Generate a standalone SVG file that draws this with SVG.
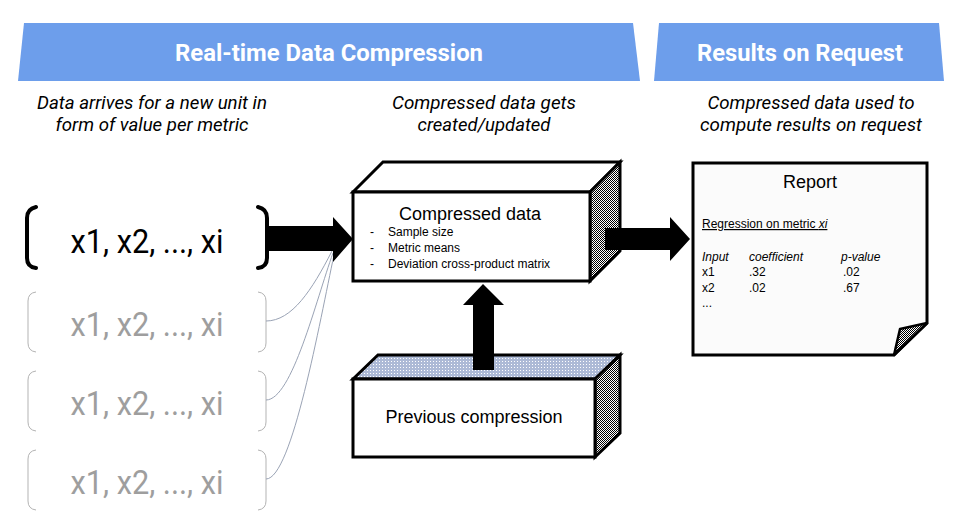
<svg xmlns="http://www.w3.org/2000/svg" width="966" height="530" viewBox="0 0 966 530">
<defs>
<pattern id="dither" width="2" height="2" patternUnits="userSpaceOnUse">
<rect width="2" height="2" fill="#ffffff"/>
<rect x="0" y="0" width="1" height="1" fill="#000000"/>
<rect x="1" y="1" width="1" height="1" fill="#000000"/>
</pattern>
<pattern id="dots" width="3" height="3" patternUnits="userSpaceOnUse">
<rect width="3" height="3" fill="#adbad6"/>
<rect x="1" y="1" width="1" height="1" fill="#ffffff"/>
</pattern>
</defs>
<style>
.hdr{fill:#6d9eeb}
.hdrt{font-family:Roboto,"Liberation Sans",sans-serif;font-weight:bold;font-size:24px;fill:#ffffff;text-anchor:middle}
.sub{font-family:Roboto,"Liberation Sans",sans-serif;font-style:italic;font-size:18px;fill:#000000;text-anchor:middle}
.box{stroke:#000000;stroke-width:3;stroke-linejoin:miter}
.face{fill:#ffffff}
.side{fill:url(#dither)}
.lbl{font-family:"Liberation Sans",Arial,sans-serif;fill:#000000}
.big{font-size:18px;text-anchor:middle}
.sm{font-size:12px}
.vec{font-family:Roboto,"Liberation Sans",sans-serif;font-size:34px;text-anchor:middle}
.vecb{fill:#000000}
.vecg{fill:#9e9e9e}
.brk{fill:none;stroke:#000000;stroke-width:4;stroke-linecap:round}
.brkg{fill:none;stroke:#b3b3b3;stroke-width:1}
.conn{fill:none;stroke:#9aa3b5;stroke-width:1}
.arrow{fill:#000000}
</style>
<g id="header-realtime">
<polygon class="hdr" points="24,23 633,23 640,81 18,81"/>
<text class="hdrt" x="329" y="61" textLength="308" lengthAdjust="spacingAndGlyphs">Real-time Data Compression</text>
</g>
<g id="header-results">
<polygon class="hdr" points="659,23 939,23 944,81 654,81"/>
<text class="hdrt" x="800" y="61" textLength="206" lengthAdjust="spacingAndGlyphs">Results on Request</text>
</g>
<g id="caption-left">
<text class="sub" x="152" y="109" textLength="230" lengthAdjust="spacingAndGlyphs">Data arrives for a new unit in</text>
<text class="sub" x="152" y="131" textLength="193" lengthAdjust="spacingAndGlyphs">form of value per metric</text>
</g>
<g id="caption-mid">
<text class="sub" x="484" y="109" textLength="184" lengthAdjust="spacingAndGlyphs">Compressed data gets</text>
<text class="sub" x="484" y="131" textLength="133" lengthAdjust="spacingAndGlyphs">created/updated</text>
</g>
<g id="caption-right">
<text class="sub" x="811" y="109" textLength="207" lengthAdjust="spacingAndGlyphs">Compressed data used to</text>
<text class="sub" x="811" y="131" textLength="222" lengthAdjust="spacingAndGlyphs">compute results on request</text>
</g>
<g id="unit-current">
<path class="brk" d="M36,207 Q27,209 27,218 V258 Q27,267 36,268"/>
<path class="brk" d="M258,207 Q267,209 267,218 V258 Q267,267 258,268"/>
<text class="vec vecb" x="147" y="253" textLength="153" lengthAdjust="spacingAndGlyphs">x1, x2, ..., xi</text>
</g>
<g id="unit-prev1">
<path class="brkg" d="M36,292 Q28,293 28,301 V343 Q28,351 36,352"/>
<path class="brkg" d="M258,292 Q266,293 266,301 V343 Q266,351 258,352"/>
<text class="vec vecg" x="147" y="336" textLength="153" lengthAdjust="spacingAndGlyphs">x1, x2, ..., xi</text>
</g>
<g id="unit-prev2">
<path class="brkg" d="M36,371 Q28,372 28,380 V422 Q28,430 36,431"/>
<path class="brkg" d="M258,371 Q266,372 266,380 V422 Q266,430 258,431"/>
<text class="vec vecg" x="147" y="415" textLength="153" lengthAdjust="spacingAndGlyphs">x1, x2, ..., xi</text>
</g>
<g id="unit-prev3">
<path class="brkg" d="M36,450 Q28,451 28,459 V501 Q28,509 36,510"/>
<path class="brkg" d="M258,450 Q266,451 266,459 V501 Q266,509 258,510"/>
<text class="vec vecg" x="147" y="494" textLength="153" lengthAdjust="spacingAndGlyphs">x1, x2, ..., xi</text>
</g>
<g id="previous-compression">
<polygon class="box" fill="url(#dots)" points="353,379 378,355 620,355 595,379"/>
<polygon class="box side" points="595,379 620,355 620,433 595,457"/>
<rect class="box face" x="353" y="379" width="242" height="78"/>
<text class="lbl big" x="474" y="423">Previous compression</text>
</g>
<g id="compressed-data">
<polygon class="box face" points="353,192 383,162 620,162 590,192"/>
<polygon class="box side" points="590,192 620,162 620,251 590,281"/>
<rect class="box face" x="353" y="192" width="237" height="89"/>
<text class="lbl big" x="470" y="220">Compressed data</text>
<text class="lbl sm" x="370" y="236">-</text>
<text class="lbl sm" x="388" y="236">Sample size</text>
<text class="lbl sm" x="370" y="252">-</text>
<text class="lbl sm" x="388" y="252">Metric means</text>
<text class="lbl sm" x="370" y="268">-</text>
<text class="lbl sm" x="388" y="268">Deviation cross-product matrix</text>
</g>
<g id="report">
<path class="box" fill="#fbfbfb" d="M693,163 H927 V323 L894,355 H693 Z"/>
<polygon fill="url(#dither)" stroke="#000000" stroke-width="2.5" stroke-linejoin="round" points="927,323 900,329 894,355"/>
<text class="lbl big" x="810" y="188">Report</text>
<text class="lbl sm" x="702" y="228" text-decoration="underline">Regression on metric <tspan font-style="italic">xi</tspan></text>
<text class="lbl sm" x="702" y="261" font-style="italic">Input</text>
<text class="lbl sm" x="749" y="261" font-style="italic">coefficient</text>
<text class="lbl sm" x="841" y="261" font-style="italic">p-value</text>
<text class="lbl sm" x="702" y="276">x1</text>
<text class="lbl sm" x="749" y="276">.32</text>
<text class="lbl sm" x="843" y="276">.02</text>
<text class="lbl sm" x="702" y="292">x2</text>
<text class="lbl sm" x="749" y="292">.02</text>
<text class="lbl sm" x="843" y="292">.67</text>
<text class="lbl sm" x="702" y="307">...</text>
</g>
<g id="connectors">
<path class="conn" d="M266,321 C292,321 312,290 332,251"/>
<path class="conn" d="M266,400 C292,400 316,300 333,253"/>
<path class="conn" d="M266,479 C292,479 320,320 334,255"/>
<polygon class="arrow" points="267,226 333,226 333,217 353,239 333,262 333,251 267,251"/>
<polygon class="arrow" points="605,228 670,228 670,217 690,239 670,261 670,250 605,250"/>
<polygon class="arrow" points="473,370 473,305 463,305 483,284 504,305 494,305 494,370"/>
</g>
</svg>
